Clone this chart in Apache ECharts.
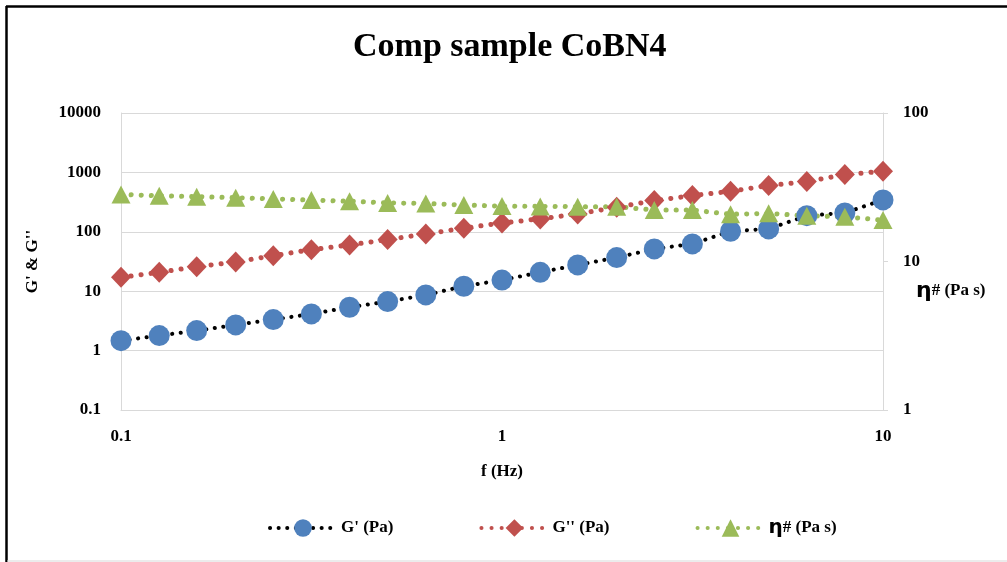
<!DOCTYPE html>
<html>
<head>
<meta charset="utf-8">
<script src="https://cdn.jsdelivr.net/npm/echarts@6/dist/echarts.min.js"></script>
<style>html,body{margin:0;padding:0;background:#fff}#c{width:1007px;height:562px}</style>
</head>
<body>
<div id="c"></div>
<script>
var freq = [0.1, 0.126, 0.158, 0.2, 0.251, 0.316, 0.398, 0.501, 0.631, 0.794, 1, 1.26, 1.58, 2, 2.51, 3.16, 3.98, 5.01, 6.31, 7.94, 10];
var gPrime = [1.47, 1.79, 2.17, 2.71, 3.33, 4.14, 5.37, 6.68, 8.65, 12.1, 15.4, 20.8, 27.7, 36.8, 51.5, 62.5, 102, 112, 187, 208, 344];
var gDouble = [17.1, 20.8, 25.9, 31.1, 39.7, 50.1, 60.1, 73.9, 92, 115, 141, 165, 200, 259, 335, 407, 481, 600, 700, 918, 1043];
var eta = [28.3, 27.7, 27.3, 26.9, 26.4, 25.9, 25.5, 24.8, 24.6, 24.0, 23.6, 23.5, 23.4, 23.4, 22.2, 22.2, 20.8, 21.1, 20.3, 20.0, 19.0];
var leftTicks = ['0.1', '1', '10', '100', '1000', '10000'];
var rightTicks = ['1', '10', '100'];
var xTicks = ['0.1', '1', '10'];
var seriesNames = ["G' (Pa)", "G'' (Pa)", "η# (Pa s)"];
var rightAxisName = 'η# (Pa s)';

function pairs(ys) { return freq.map(function (f, i) { return [f, ys[i]]; }); }

var serif = '"Liberation Serif", "Times New Roman", serif';
var lbl = { fontFamily: serif, fontWeight: 'bold', fontSize: 17, color: '#000' };
var richEta = {
  e: { fontFamily: '"DejaVu Sans", sans-serif', fontWeight: 'bold', fontSize: 22, color: '#000' },
  t: { fontFamily: serif, fontWeight: 'bold', fontSize: 17, color: '#000' }
};
function etaRich(n) { return '{e|' + n.charAt(0) + '}{t|' + n.slice(1) + '}'; }

var chart = echarts.init(document.getElementById('c'), null, { renderer: 'canvas' });
chart.setOption({
  backgroundColor: '#fff',
  animation: false,
  title: {
    text: 'Comp sample CoBN4',
    left: 348, top: 25,
    textStyle: { fontFamily: serif, fontWeight: 'bold', fontSize: 34, color: '#000' }
  },
  grid: { left: 121, right: 124, top: 113, bottom: 152 },
  legend: {
    bottom: 19, left: 263,
    itemWidth: 66, itemHeight: 22, itemGap: 86,
    lineStyle: { width: 4 },
    textStyle: {
      fontFamily: serif, fontWeight: 'bold', fontSize: 17, color: '#000',
      rich: { e: { fontFamily: '"DejaVu Sans", sans-serif', fontWeight: 'bold', fontSize: 20 }, t: { fontFamily: serif, fontWeight: 'bold', fontSize: 17 } }
    },
    formatter: function (n) {
      if (n.charAt(0) === 'η') return etaRich(n);
      return n;
    },
    data: seriesNames
  },
  xAxis: {
    type: 'log', logBase: 10, min: 0.1, max: 10,
    name: 'f (Hz)', nameLocation: 'middle', nameGap: 53,
    nameTextStyle: { fontFamily: serif, fontWeight: 'bold', fontSize: 17, color: '#000' },
    axisLine: { show: true, lineStyle: { color: '#D9D9D9', width: 1 } },
    axisTick: { show: false },
    splitLine: { show: false },
    minorTick: { show: false },
    axisLabel: Object.assign({ margin: 18, formatter: function (v) { var s = String(+v.toPrecision(3)); return xTicks.indexOf(s) >= 0 ? s : ''; } }, lbl)
  },
  yAxis: [{
    type: 'log', logBase: 10, min: 0.1, max: 10000,
    name: "G' & G''", nameLocation: 'middle', nameGap: 80, nameRotate: 90,
    nameTextStyle: { fontFamily: serif, fontWeight: 'bold', fontSize: 17, color: '#000' },
    axisLine: { show: true, lineStyle: { color: '#D9D9D9', width: 1 } },
    axisTick: { show: false },
    splitLine: { show: true, lineStyle: { color: '#D9D9D9', width: 1 } },
    axisLabel: Object.assign({ margin: 20, formatter: function (v) { var s = String(+v.toPrecision(3)); return leftTicks.indexOf(s) >= 0 ? s : ''; } }, lbl)
  }, {
    type: 'log', logBase: 10, min: 1, max: 100, position: 'right',
    axisLine: { show: true, lineStyle: { color: '#D9D9D9', width: 1 } },
    axisTick: { show: true, length: 5, lineStyle: { color: '#D9D9D9' } },
    splitLine: { show: false },
    axisLabel: Object.assign({ margin: 20, formatter: function (v) { var s = String(+v.toPrecision(3)); return rightTicks.indexOf(s) >= 0 ? s : ''; } }, lbl)
  }],
  graphic: [
    { type: 'line', shape: { x1: 6, y1: 6.5, x2: 1007, y2: 6.5 }, style: { stroke: '#000', lineWidth: 2.5 }, silent: true },
    { type: 'line', shape: { x1: 6.5, y1: 6, x2: 6.5, y2: 562 }, style: { stroke: '#000', lineWidth: 2.5 }, silent: true },
    { type: 'line', shape: { x1: 7, y1: 561, x2: 1007, y2: 561 }, style: { stroke: '#D9D9D9', lineWidth: 1 }, silent: true },
    { type: 'text', left: 916, top: 280, silent: true,
      style: { text: etaRich(rightAxisName), rich: richEta, verticalAlign: 'middle' } }
  ],
  series: [{
    name: seriesNames[0], type: 'line', yAxisIndex: 0, data: pairs(gPrime),
    symbol: 'circle', symbolSize: 21,
    itemStyle: { color: '#4F81BD' },
    lineStyle: { color: '#000', width: 4, type: [0.1, 8.5], cap: 'round' }
  }, {
    name: seriesNames[1], type: 'line', yAxisIndex: 0, data: pairs(gDouble),
    symbol: 'diamond', symbolSize: [20, 21],
    itemStyle: { color: '#C0504D' },
    lineStyle: { color: '#C0504D', width: 5, type: [0.1, 10], cap: 'round' }
  }, {
    name: seriesNames[2], type: 'line', yAxisIndex: 1, data: pairs(eta),
    symbol: 'triangle', symbolSize: [19, 18],
    itemStyle: { color: '#9BBB59' },
    lineStyle: { color: '#9BBB59', width: 5, type: [0.1, 10], cap: 'round' }
  }]
});
</script>
</body>
</html>
